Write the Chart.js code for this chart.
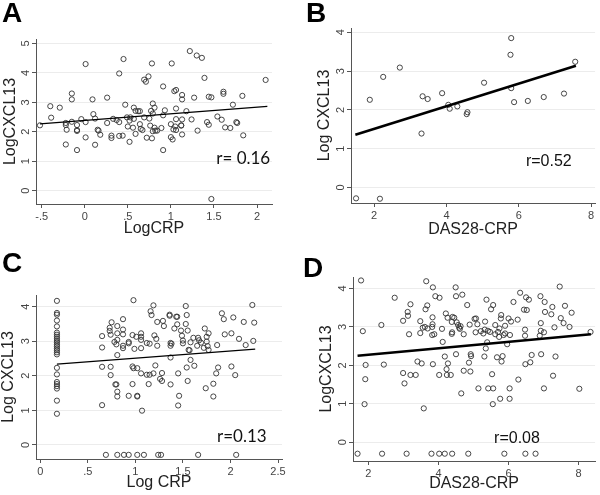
<!DOCTYPE html>
<html lang="en">
<head>
<meta charset="UTF-8">
<title>CXCL13 correlations</title>
<script src="https://cdn.jsdelivr.net/npm/chart.js"></script>
<style>
  html, body { margin: 0; padding: 0; background: #fff; }
  #wrap { position: relative; width: 600px; height: 495px; overflow: hidden; }
  canvas { position: absolute; }
  .letter { position: absolute; font-family: "Liberation Sans", Arial, sans-serif; font-weight: bold; font-size: 28px; line-height: 1; color: #000; }
</style>
</head>
<body>
<div id="wrap">
  <canvas id="chartA" width="300" height="245" style="left:0;top:0"></canvas>
  <canvas id="chartB" width="300" height="245" style="left:300px;top:0"></canvas>
  <canvas id="chartC" width="300" height="250" style="left:0;top:245px"></canvas>
  <canvas id="chartD" width="300" height="250" style="left:300px;top:245px"></canvas>
  <div class="letter" style="left:2px;top:-1px">A</div>
  <div class="letter" style="left:306px;top:-1px">B</div>
  <div class="letter" style="left:2px;top:249px">C</div>
  <div class="letter" style="left:303px;top:254px">D</div>
</div>
<script>
// ---- data ----
// A: LogCRP vs LogCXCL13
const aX = [-0.52,-0.40,-0.39,-0.29,-0.22,-0.22,-0.21,-0.22,-0.15,-0.15,-0.15,-0.09,-0.09,-0.09,-0.09,-0.04,0.01,0.01,0.01,0.09,
  0.10,0.12,0.12,0.15,0.16,0.18,0.26,0.26,0.31,0.31,0.33,0.37,0.40,0.40,0.40,0.44,0.45,0.47,0.49,0.50,
  0.52,0.52,0.53,0.56,0.57,0.57,0.59,0.59,0.62,0.64,0.64,0.65,0.67,0.69,0.69,0.71,0.72,0.74,0.75,0.76,
  0.77,0.78,0.78,0.79,0.79,0.79,0.81,0.81,0.82,0.84,0.89,0.91,0.91,0.91,0.93,1.00,1.00,1.01,1.02,1.03,
  1.04,1.05,1.06,1.06,1.06,1.06,1.12,1.12,1.13,1.13,1.13,1.13,1.18,1.22,1.24,1.27,1.30,1.31,1.36,1.39,
  1.42,1.44,1.44,1.47,1.47,1.54,1.59,1.61,1.61,1.63,1.69,1.72,1.76,1.77,1.83,1.84,2.10];
const aY = [2.22,2.87,2.48,2.82,1.57,2.30,2.07,2.23,3.30,3.10,2.34,2.23,2.06,2.03,1.38,2.43,4.30,2.33,1.81,3.10,
  2.60,2.45,1.56,2.07,2.04,1.90,3.16,2.30,1.87,1.79,2.44,2.40,2.33,3.98,1.86,1.87,4.47,2.92,2.49,2.18,
  1.66,2.38,2.49,2.14,2.82,2.44,1.93,2.71,2.70,2.70,2.26,2.10,2.06,2.49,3.77,3.70,1.80,3.88,2.45,2.21,
  2.71,1.78,4.32,2.62,2.96,2.02,2.82,2.14,2.04,2.04,2.13,2.56,1.38,3.54,2.73,2.26,1.82,4.32,1.74,2.08,
  3.38,2.18,2.43,3.42,2.79,2.06,2.21,2.22,2.42,3.10,3.25,1.91,2.70,4.74,2.42,3.16,4.59,2.04,4.51,3.83,
  2.33,3.19,2.24,-0.28,3.17,2.52,2.41,3.36,3.29,2.15,2.13,2.92,2.33,2.30,3.22,1.88,3.76];
const aFitX = [-0.52, 2.12];
const aFitY = [2.27, 2.86];
const aXTicks = [-0.5, 0, 0.5, 1, 1.5, 2];
const aYTicks = [0, 1, 2, 3, 4, 5];

// B: DAS28-CRP vs Log CXCL13
const bX = [1.50,1.88,2.16,2.25,2.71,3.31,3.34,3.48,3.88,4.05,4.09,4.30,4.56,4.58,5.04,5.77,5.79,5.79,5.87,6.25,6.69,7.25,7.56];
const bY = [-0.28,2.26,-0.29,2.85,3.09,1.39,2.35,2.28,2.43,2.13,2.03,2.09,1.89,1.94,2.70,3.42,3.85,2.56,2.20,2.23,2.33,2.42,3.24];
const bFitX = [1.48, 7.58];
const bFitY = [1.36, 3.14];
const bXTicks = [2, 4, 6, 8];
const bYTicks = [0, 1, 2, 3, 4];

// C: Log CRP vs Log CXCL13
const cX = [0.175,0.175,0.175,0.175,0.175,0.175,0.175,0.175,0.175,0.175,0.175,0.175,0.175,0.175,0.175,0.175,0.175,0.175,0.175,0.175,
  0.175,0.175,0.175,0.175,0.175,
  0.65,0.65,0.65,0.65,0.73,0.73,0.74,0.74,0.74,0.75,0.78,0.80,0.80,0.81,0.81,0.81,0.81,0.81,0.81,0.79,
  0.87,0.87,0.87,0.87,0.87,0.93,0.93,0.93,0.98,0.97,0.97,0.98,0.97,0.99,1.01,1.02,1.02,1.02,1.06,1.06,
  1.06,1.06,1.06,1.07,1.12,1.12,1.14,1.15,1.15,1.16,1.17,1.19,1.19,1.20,1.21,1.22,1.23,1.23,1.26,1.28,
  1.28,1.29,1.30,1.36,1.36,1.37,1.37,1.37,1.37,1.38,1.41,1.43,1.44,1.44,1.45,1.45,1.46,1.48,1.49,1.50,
  1.50,1.53,1.53,1.54,1.54,1.55,1.55,1.56,1.57,1.58,1.58,1.61,1.62,1.65,1.66,1.67,1.69,1.72,1.73,1.74,
  1.75,1.75,1.76,1.77,1.77,1.82,1.82,1.85,1.86,1.87,1.91,1.93,1.94,2.01,2.01,2.03,2.05,2.09,2.14,2.16,
  2.23,2.24,2.25,
  0.69,0.81,0.88,0.93,1.02,1.09,1.24,1.27,1.66,2.06];
const cY = [4.17,3.82,3.77,3.60,3.43,3.25,3.19,3.13,3.07,3.01,2.96,2.90,2.85,2.79,2.74,2.68,2.62,2.23,2.04,1.82,
  1.76,1.70,1.63,1.28,0.90,
  3.15,2.82,2.26,1.15,3.39,3.30,3.19,2.26,2.02,3.55,2.98,2.91,1.75,3.44,3.23,3.04,2.60,1.54,1.40,1.75,
  3.64,3.34,3.20,2.87,2.80,2.98,1.42,2.94,4.19,3.18,2.27,2.22,1.76,2.78,3.13,2.22,1.42,1.40,3.23,3.13,
  3.04,2.80,2.07,0.99,2.95,2.03,1.76,2.03,2.93,3.87,3.76,4.04,2.07,3.17,2.30,3.07,3.56,2.87,1.91,2.08,
  1.85,3.59,3.44,3.77,3.74,2.53,2.95,2.87,1.75,2.93,3.37,3.71,3.49,3.71,1.14,2.07,1.42,3.31,3.16,3.02,
  2.94,4.02,3.50,3.76,2.24,1.85,3.31,2.75,2.74,2.46,2.97,3.10,2.29,2.87,3.10,3.03,2.96,2.81,3.37,1.64,
  2.99,3.13,2.86,3.23,2.75,1.77,1.40,2.07,2.89,2.24,3.81,3.64,3.20,3.23,2.27,3.69,2.02,3.07,3.56,2.89,
  4.05,3.01,3.54,
  -0.29,-0.29,-0.29,-0.29,-0.29,-0.29,-0.29,-0.29,-0.29,-0.29];
const cFitX = [0.175, 2.26];
const cFitY = [2.34, 2.77];
const cXTicks = [0, 0.5, 1, 1.5, 2, 2.5];
const cYTicks = [0, 1, 2, 3, 4];

// D: DAS28-CRP vs LogCXCL13
const dX = [1.79,1.84,1.92,1.91,1.89,2.44,2.37,2.75,2.99,2.99,3.03,3.12,3.13,3.16,3.20,3.20,3.35,3.40,3.48,3.48,
  3.52,3.55,3.58,3.61,3.63,3.65,3.68,3.69,3.82,3.82,3.83,3.83,3.84,3.84,3.88,3.91,4.02,4.03,4.10,4.12,
  4.18,4.21,4.23,4.24,4.26,4.27,4.35,4.38,4.39,4.38,4.40,4.45,4.49,4.50,4.50,4.52,4.56,4.59,4.61,4.63,
  4.65,4.68,4.72,4.72,4.82,4.87,4.89,4.91,4.92,4.93,5.03,5.06,5.07,5.11,5.14,5.21,5.28,5.31,5.32,5.33,
  5.35,5.37,5.39,5.41,5.42,5.47,5.50,5.53,5.55,5.56,5.56,5.62,5.62,5.67,5.70,5.73,5.74,5.76,5.78,5.79,
  5.80,5.83,5.86,5.90,5.90,5.96,6.00,6.03,6.03,6.04,6.07,6.14,6.26,6.28,6.33,6.44,6.47,6.47,6.48,6.52,
  6.50,6.58,6.62,6.66,6.89,6.91,6.92,6.92,6.93,7.01,7.03,7.04,7.01,7.22,7.25,7.27,7.31,7.34,7.46,7.49,
  7.57,7.61,7.74,7.80,8.02,8.34,
  1.69,2.39,3.09,3.80,4.02,4.18,4.39,4.85,5.88,6.48,6.77];
const dY = [4.21,2.89,2.01,1.64,0.99,2.02,3.05,3.76,3.16,1.80,1.53,3.39,3.29,2.81,3.59,1.75,1.75,2.10,2.84,3.15,
  2.05,2.98,0.88,3.00,3.46,4.19,3.56,2.96,2.79,3.00,3.07,3.25,4.03,2.03,2.81,3.80,1.75,3.76,2.95,2.61,
  2.23,3.35,1.90,1.75,3.24,2.05,1.75,2.82,2.86,3.13,3.26,3.24,4.03,3.80,2.29,3.12,3.05,2.98,2.95,3.02,
  1.27,3.84,2.81,1.86,3.57,2.07,3.06,1.84,2.29,2.24,3.21,2.86,3.22,3.07,1.40,2.89,2.83,2.23,2.93,3.14,
  2.44,3.71,2.60,2.90,1.40,2.87,3.46,1.77,0.99,3.57,1.40,3.05,2.81,2.21,2.87,2.74,2.96,1.13,3.22,3.31,
  2.10,2.24,2.79,3.03,2.83,2.55,3.22,1.40,1.13,2.79,3.14,3.65,3.19,1.63,3.89,3.45,2.93,2.77,2.03,3.44,
  3.77,3.71,2.08,2.27,2.77,3.80,3.10,2.90,2.29,2.86,3.65,3.39,1.40,3.33,3.52,1.73,2.99,2.23,4.05,3.23,
  3.10,3.55,3.00,3.37,1.39,2.87,
  -0.30,-0.30,-0.30,-0.30,-0.30,-0.30,-0.30,-0.30,-0.30,-0.30,-0.30];
const dFitX = [1.69, 8.35];
const dFitY = [2.25, 2.81];
const dXTicks = [2, 4, 6, 8];
const dYTicks = [0, 1, 2, 3, 4];

const rLabels = ['r= 0.16', 'r=0.52', 'r=0.13', 'r=0.08'];

// ---- panel layout (canvas-relative pixels) ----
const panels = [
  { id: 'chartA', x: aX, y: aY, fx: aFitX, fy: aFitY, xt: aXTicks, yt: aYTicks,
    xTitle: 'LogCRP', yTitle: 'LogCXCL13', r: rLabels[0], rAt: [1.84, 1.11], rFont: '17px Lato',
    w: 300, h: 245, L: 36, R: 272, T: 39, B: 204, xmin: -0.566, xmax: 2.174, ymin: -0.45, ymax: 5.15,
    lw: 1.3, yTitleX: 11, xTitleY: 229 },
  { id: 'chartB', x: bX, y: bY, fx: bFitX, fy: bFitY, xt: bXTicks, yt: bYTicks,
    xTitle: 'DAS28-CRP', yTitle: 'Log CXCL13', r: rLabels[1], rAt: [6.83, 0.66], rFont: '16px "Liberation Sans"',
    w: 300, h: 245, L: 51, R: 297, T: 28, B: 203, xmin: 1.36, xmax: 8.11, ymin: -0.40, ymax: 4.11,
    lw: 2.6, yTitleX: 25, xTitleY: 229.5 },
  { id: 'chartC', x: cX, y: cY, fx: cFitX, fy: cFitY, xt: cXTicks, yt: cYTicks,
    xTitle: 'Log CRP', yTitle: 'Log CXCL13', r: rLabels[2], rAt: [2.12, 0.24], rFont: '17px Lato',
    w: 300, h: 250, L: 36, R: 282, T: 50, B: 214, xmin: -0.045, xmax: 2.542, ymin: -0.41, ymax: 4.34,
    lw: 1.3, yTitleX: 9, xTitleY: 238 },
  { id: 'chartD', x: dX, y: dY, fx: dFitX, fy: dFitY, xt: dXTicks, yt: dYTicks,
    xTitle: 'DAS28-CRP', yTitle: 'LogCXCL13', r: rLabels[3], rAt: [6.24, 0.09], rFont: '16px "Liberation Sans"',
    w: 300, h: 250, L: 53, R: 298, T: 32, B: 216, xmin: 1.56, xmax: 8.47, ymin: -0.49, ymax: 4.30,
    lw: 2.6, yTitleX: 27, xTitleY: 239 }
];

// Stata style numbers: .5 instead of 0.5
function stataNum(v) {
  return String(v).replace(/^(-?)0\./, '$1.');
}

const AXIS_FONT = { family: '"Liberation Sans", Arial, sans-serif', size: 16, lineHeight: 1 };
const TICK_FONT = { family: '"Liberation Sans", Arial, sans-serif', size: 11 };

// vertical y tick labels + r annotation
const extras = {
  id: 'extras',
  afterDraw(chart, args, opts) {
    const ctx = chart.ctx;
    const ys = chart.scales.y, xs = chart.scales.x;
    ctx.save();
    ctx.fillStyle = '#444';
    ctx.font = '11px "Liberation Sans", Arial, sans-serif';
    ctx.textAlign = 'center';
    ctx.textBaseline = 'middle';
    ys.ticks.forEach(t => {
      const py = ys.getPixelForValue(t.value);
      ctx.save();
      ctx.translate(chart.chartArea.left - 10, py);
      ctx.rotate(-Math.PI / 2);
      ctx.fillText(stataNum(t.value), 0, 0);
      ctx.restore();
    });
    ctx.fillStyle = '#111';
    ctx.font = opts.rFont;
    ctx.fillText(opts.r, xs.getPixelForValue(opts.rAt[0]), ys.getPixelForValue(opts.rAt[1]));
    ctx.restore();
  }
};

panels.forEach(p => {
  const pts = p.x.map((v, i) => ({ x: v, y: p.y[i] }));
  const fit = p.fx.map((v, i) => ({ x: v, y: p.fy[i] }));
  new Chart(document.getElementById(p.id), {
    type: 'scatter',
    data: {
      datasets: [
        { data: fit, showLine: true, pointRadius: 0, borderColor: '#000', borderWidth: p.lw, fill: false },
        { data: pts, pointRadius: 2.6, pointBorderWidth: 0.9, pointBorderColor: '#333', pointBackgroundColor: 'rgba(0,0,0,0)' }
      ]
    },
    options: {
      responsive: false,
      animation: false,
      devicePixelRatio: 1,
      events: [],
      layout: { padding: { left: 0, top: p.T, right: p.w - p.R, bottom: 0 } },
      plugins: {
        legend: { display: false },
        tooltip: { enabled: false },
        extras: { r: p.r, rAt: p.rAt, rFont: p.rFont }
      },
      scales: {
        x: {
          type: 'linear', min: p.xmin, max: p.xmax,
          afterBuildTicks: s => { s.ticks = p.xt.map(v => ({ value: v })); },
          afterFit: s => { s.height = p.h - p.B; },
          grid: { drawOnChartArea: false, drawTicks: true, tickLength: 4, tickColor: '#555' },
          border: { display: true, color: '#555', width: 1 },
          ticks: { font: TICK_FONT, color: '#444', padding: 2, maxRotation: 0, callback: v => stataNum(v) },
          title: { display: true, text: p.xTitle, font: AXIS_FONT, color: '#222',
                   padding: { top: 0, bottom: (p.h - p.xTitleY) - 8 } }
        },
        y: {
          type: 'linear', min: p.ymin, max: p.ymax,
          afterBuildTicks: s => { s.ticks = p.yt.map(v => ({ value: v })); },
          afterFit: s => { s.width = p.L; },
          grid: { color: '#ececec', lineWidth: 1, drawTicks: true, tickLength: 4, tickColor: '#555' },
          border: { display: true, color: '#555', width: 1 },
          ticks: { display: false },
          title: { display: true, text: p.yTitle, font: AXIS_FONT, color: '#222',
                   padding: { top: p.yTitleX - 8, bottom: 0 } }
        }
      }
    },
    plugins: [extras]
  });
});
</script>
</body>
</html>
